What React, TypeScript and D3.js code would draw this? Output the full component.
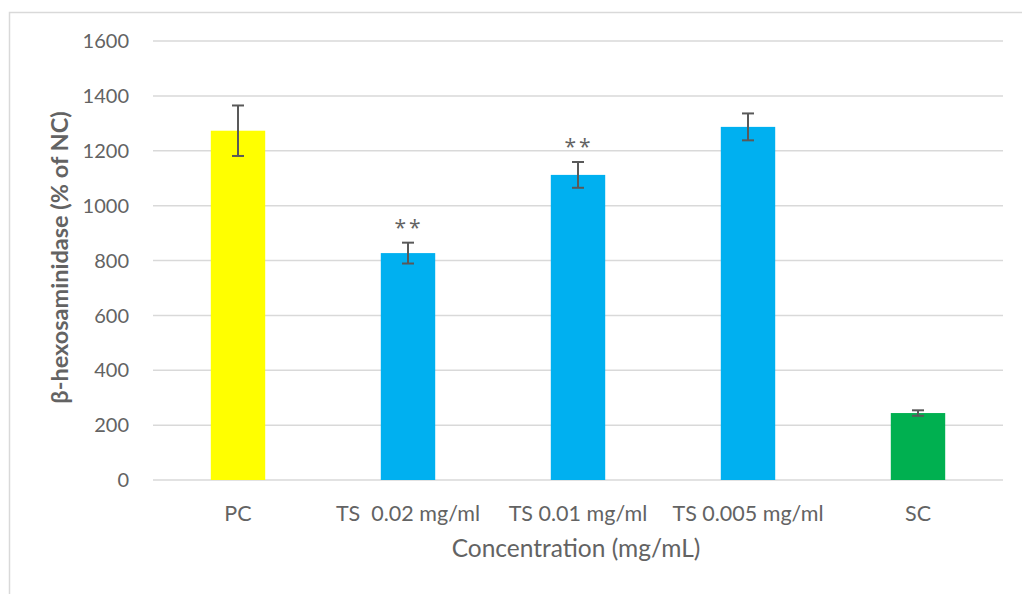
import React, { useEffect, useRef } from 'react';
import * as d3 from 'd3';

const categories = ['PC', 'TS  0.02 mg/ml', 'TS 0.01 mg/ml', 'TS 0.005 mg/ml', 'SC'];
const means = [1273, 827, 1112, 1287, 244];
const errors = [92, 38, 47, 49, 10];
const barColors = ['#FFFF00', '#00B0F0', '#00B0F0', '#00B0F0', '#00B050'];
const marks = ['', '**', '**', '', ''];
const yTicks = [0, 200, 400, 600, 800, 1000, 1200, 1400, 1600];

const App = () => {
  const ref = useRef<SVGSVGElement>(null);

  useEffect(() => {
    const width = 1022;
    const height = 594;
    const plot = { left: 153, right: 1003, top: 41, bottom: 480 };
    const grey = '#636363';
    const font = 'Lato, "Open Sans", sans-serif';

    const svg = d3.select(ref.current);
    svg.selectAll('*').remove();
    svg.attr('width', width).attr('height', height);

    // outer frame (only left and top are visible in the picture)
    svg.append('rect')
      .attr('x', 9.5).attr('y', 12.5)
      .attr('width', 1200).attr('height', 800)
      .attr('fill', 'white')
      .attr('stroke', '#d9d9d9')
      .attr('stroke-width', 1.5);

    const x = d3.scaleBand()
      .domain(categories)
      .range([plot.left, plot.right])
      .paddingInner(0.68)
      .paddingOuter(0.34);

    const y = d3.scaleLinear()
      .domain([0, 1600])
      .range([plot.bottom, plot.top]);

    // gridlines
    svg.append('g')
      .selectAll('line')
      .data(yTicks)
      .join('line')
      .attr('x1', plot.left).attr('x2', plot.right)
      .attr('y1', d => y(d)).attr('y2', d => y(d))
      .attr('stroke', '#d9d9d9')
      .attr('stroke-width', 1.5);

    // y tick labels
    svg.append('g')
      .selectAll('text')
      .data(yTicks)
      .join('text')
      .attr('x', 129)
      .attr('y', d => y(d))
      .attr('dy', '0.36em')
      .attr('text-anchor', 'end')
      .attr('fill', grey)
      .attr('font-family', font)
      .attr('font-size', 20)
      .text(d => d);

    // bars
    svg.append('g')
      .selectAll('rect')
      .data(categories)
      .join('rect')
      .attr('x', d => x(d)!)
      .attr('y', (d, i) => y(means[i]))
      .attr('width', x.bandwidth())
      .attr('height', (d, i) => y(0) - y(means[i]))
      .attr('fill', (d, i) => barColors[i]);

    // error bars
    const eb = svg.append('g')
      .attr('stroke', '#595959')
      .attr('stroke-width', 2);
    categories.forEach((c, i) => {
      const cx = x(c)! + x.bandwidth() / 2;
      const hi = y(means[i] + errors[i]);
      const lo = y(means[i] - errors[i]);
      eb.append('line').attr('x1', cx).attr('x2', cx).attr('y1', hi).attr('y2', lo);
      eb.append('line').attr('x1', cx - 6).attr('x2', cx + 6).attr('y1', hi).attr('y2', hi);
      eb.append('line').attr('x1', cx - 6).attr('x2', cx + 6).attr('y1', lo).attr('y2', lo);
      if (marks[i]) {
        svg.append('text')
          .attr('x', cx + 1)
          .attr('y', hi - 8)
          .attr('text-anchor', 'middle')
          .attr('fill', grey)
          .attr('font-family', '"Open Sans", sans-serif')
          .attr('font-size', 21)
          .attr('letter-spacing', 3)
          .text(marks[i]);
      }
    });

    // category labels
    svg.append('g')
      .selectAll('text')
      .data(categories)
      .join('text')
      .attr('x', d => x(d)! + x.bandwidth() / 2)
      .attr('y', 521)
      .attr('text-anchor', 'middle')
      .attr('fill', grey)
      .attr('font-family', font)
      .attr('font-size', 21.5)
      .style('white-space', 'pre')
      .text(d => d);

    // axis titles
    svg.append('text')
      .attr('x', (plot.left + plot.right) / 2 - 2)
      .attr('y', 557)
      .attr('text-anchor', 'middle')
      .attr('fill', grey)
      .attr('font-family', font)
      .attr('font-size', 24.5)
      .text('Concentration (mg/mL)');

    svg.append('text')
      .attr('transform', `translate(68, ${(plot.top + plot.bottom) / 2 - 3}) rotate(-90)`)
      .attr('text-anchor', 'middle')
      .attr('fill', grey)
      .attr('font-family', font)
      .attr('font-size', 23.5)
      .attr('font-weight', 'bold')
      .text('β-hexosaminidase (% of NC)');

    return () => {
      svg.selectAll('*').remove();
    };
  }, []);

  return (
    <svg
      ref={ref}
      style={{ position: 'absolute', left: 0, top: 0, display: 'block', background: 'white' }}
    />
  );
};

export default App;
